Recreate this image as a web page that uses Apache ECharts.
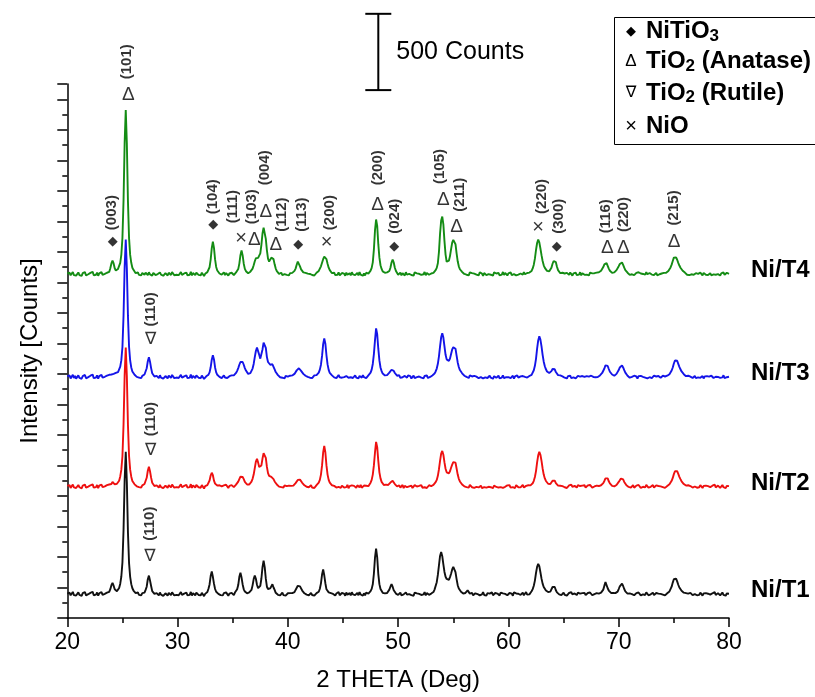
<!DOCTYPE html>
<html><head><meta charset="utf-8">
<script src="https://cdn.jsdelivr.net/npm/echarts@6/dist/echarts.min.js"></script>
<style>html,body{margin:0;padding:0;background:#fff}#c{width:815px;height:697px}</style>
</head><body><div id="c"></div>
<script>
// 2-theta grid of the digitised patterns (degrees)
const X_START = 20, X_STEP = 0.1;

// Raw intensities (counts), one value per 0.1 deg from 20 to 80
const T1 = [
160,152,166,149,158,171,150,163,147,159,
168,151,157,145,163,154,170,148,161,156,
150,165,158,172,149,160,153,167,146,162,
157,170,152,164,158,149,166,160,171,189,
215,230,212,188,178,176,184,197,225,272,
365,578,904,1090,890,560,360,270,222,195,
180,172,163,158,167,152,160,149,163,155,
166,184,205,254,278,246,210,176,171,158,
150,163,156,148,167,153,160,145,158,162,
154,147,165,158,150,169,156,148,161,152,
163,149,157,170,151,146,160,155,166,148,
158,152,171,147,163,155,149,166,157,151,
160,148,165,154,143,158,168,170,192,220,
275,305,270,225,190,172,166,158,162,150,
157,148,163,152,168,155,146,160,153,165,
158,150,167,170,188,216,270,297,265,220,
188,174,168,162,156,168,166,184,214,255,
279,257,218,196,195,211,259,334,375,334,
258,205,190,180,194,206,221,200,184,165,
160,152,165,149,158,166,150,161,147,156,
162,150,163,157,163,168,170,184,194,211,
215,207,197,180,174,162,166,153,160,149,
158,165,151,162,147,157,163,164,172,192,
227,285,318,280,228,188,176,168,157,163,
150,158,166,147,161,155,170,149,157,164,
153,160,146,167,152,158,163,148,169,155,
161,150,157,165,149,170,154,159,146,162,
148,166,155,160,170,176,191,221,290,395,
455,398,288,222,190,178,165,168,161,162,
164,167,186,205,222,205,182,170,160,163,
151,158,166,149,162,155,147,168,153,160,
157,164,150,159,146,167,156,161,149,158,
166,151,160,155,170,148,163,157,152,165,
160,168,170,186,199,235,282,345,407,432,
405,352,302,270,256,245,250,268,290,318,
335,330,300,255,215,193,180,172,166,160,
158,164,172,181,170,160,152,165,149,158,
162,150,157,166,148,160,155,169,151,158,
147,163,155,160,152,168,149,157,164,153,
160,156,148,167,154,161,150,158,165,149,
157,164,152,160,146,168,155,161,150,159,
163,151,158,166,149,157,170,153,160,155,
167,175,189,211,245,295,335,355,340,300,
258,225,203,190,180,172,170,172,173,185,
203,215,203,182,168,164,155,162,150,158,
166,152,160,147,158,164,151,169,155,149,
161,157,150,166,153,160,148,163,156,165,
150,158,164,152,167,155,149,162,157,153,
163,151,160,158,166,172,186,212,235,222,
195,180,170,164,158,165,159,163,165,173,
190,208,220,225,210,190,175,166,160,154,
161,150,157,165,149,158,163,152,167,156,
148,160,155,163,151,168,157,149,162,155,
159,166,150,157,164,152,160,147,158,165,
153,160,148,160,162,166,174,186,205,232,
254,265,258,240,218,200,188,178,170,166,
158,163,151,160,148,165,156,150,162,157,
164,149,157,152,166,158,147,161,155,163,
150,159,166,153,148,162,157,169,151,158,
163,155,148,160,167,152,158,146,161,156,
159];

const T2 = [
166,158,171,153,164,175,156,169,152,163,
172,157,163,150,168,159,174,154,166,161,
155,170,163,176,154,165,158,172,151,167,
162,174,157,169,163,155,171,165,175,168,
178,192,185,176,183,180,188,200,228,272,
360,570,890,1072,885,565,362,272,226,198,
185,176,170,163,172,158,166,155,169,161,
178,189,219,265,291,262,220,186,176,165,
156,169,162,154,173,158,166,151,164,168,
160,153,171,164,156,175,162,154,167,158,
169,155,163,176,157,152,166,161,172,154,
164,158,177,153,169,161,155,172,163,157,
166,154,171,160,149,164,166,171,180,201,
234,252,236,200,181,171,168,162,170,157,
163,154,169,158,174,161,152,166,159,171,
165,158,170,174,182,194,210,226,232,224,
210,192,182,175,172,175,182,194,212,240,
282,325,343,320,290,282,300,345,380,389,
350,290,250,232,225,225,222,210,195,182,
175,168,161,172,158,166,155,169,160,164,
157,168,162,166,171,168,178,184,196,205,
212,207,196,186,178,170,172,160,166,157,
163,170,155,167,152,162,171,176,187,205,
240,300,385,428,385,300,240,205,187,176,
170,158,166,173,155,164,159,171,153,167,
162,155,168,158,173,150,164,160,169,156,
166,159,153,170,161,157,172,154,163,168,
155,167,160,164,176,187,205,240,300,385,
454,420,330,255,215,192,180,172,166,174,
168,172,180,188,196,199,190,178,170,163,
158,169,155,164,172,151,166,160,157,170,
163,156,168,152,165,171,158,162,150,166,
160,171,154,163,157,168,152,165,170,158,
165,160,172,178,190,205,232,275,330,378,
395,370,320,278,255,245,248,262,285,305,
322,330,318,280,240,212,195,182,175,168,
163,170,158,166,155,172,161,157,168,153,
165,159,171,156,162,167,152,164,158,170,
154,166,160,173,157,163,151,168,162,159,
167,155,162,158,171,153,165,160,156,169,
161,170,154,163,158,166,152,171,160,157,
168,156,163,172,155,161,166,158,170,167,
169,174,183,199,224,263,320,366,389,370,
330,280,240,215,198,188,180,184,178,188,
200,212,200,184,172,168,160,167,155,164,
171,157,165,152,163,169,156,174,160,154,
166,162,155,171,158,165,153,168,161,170,
155,163,169,157,172,160,154,167,162,158,
168,156,165,163,170,176,184,198,215,225,
215,196,182,172,166,170,163,168,172,180,
192,205,214,219,208,192,180,170,166,159,
167,155,162,170,154,163,168,157,172,161,
153,165,160,168,156,173,162,154,167,160,
164,171,155,162,169,157,165,152,163,170,
158,165,153,166,165,170,176,185,199,218,
243,262,271,262,245,225,210,196,186,178,
175,168,160,170,157,165,161,155,167,162,
169,154,162,157,171,163,152,166,160,168,
155,164,171,158,153,167,162,174,156,163,
168,160,153,165,172,157,163,151,166,170,
164];

const T3 = [
164,155,170,150,162,174,153,167,149,161,
171,154,160,148,166,157,173,151,164,159,
153,168,161,175,152,163,156,170,149,165,
160,173,155,167,161,153,169,163,174,170,
176,183,180,178,186,185,192,202,228,270,
356,564,880,1060,870,560,358,268,222,196,
183,174,168,160,170,156,164,152,167,159,
176,187,217,263,289,260,218,184,174,163,
154,167,160,152,171,156,164,149,162,166,
158,151,169,162,154,173,160,152,165,156,
167,153,161,174,155,150,164,159,170,152,
162,156,175,151,167,159,153,170,161,155,
164,152,169,158,147,160,164,168,175,190,
223,273,302,275,222,190,174,168,160,165,
152,161,170,156,165,153,160,165,163,170,
166,170,176,186,200,218,240,258,269,258,
240,218,202,190,180,178,185,196,215,245,
290,330,352,348,305,280,290,340,385,393,
350,290,258,245,240,242,243,230,210,192,
180,172,163,158,168,155,163,151,166,158,
162,155,168,163,170,175,180,190,203,212,
217,212,200,190,180,175,168,172,160,166,
155,167,152,164,170,160,172,178,188,208,
240,298,375,413,378,302,242,206,186,175,
170,162,157,169,152,165,173,158,164,155,
168,159,152,166,171,155,162,158,169,153,
161,170,156,164,151,167,160,155,172,158,
165,152,163,170,176,188,208,245,310,400,
478,440,345,268,222,198,182,175,170,177,
172,180,188,198,207,210,200,186,175,168,
160,171,154,165,158,149,167,162,155,170,
157,165,150,162,168,153,166,159,148,163,
169,155,162,151,166,158,170,153,164,160,
160,170,175,182,196,215,246,295,360,420,
446,418,360,305,275,262,265,280,310,340,
355,361,345,300,255,225,205,192,184,175,
168,172,160,166,153,170,158,163,150,167,
155,162,168,152,164,159,171,150,161,157,
166,153,160,169,155,163,148,165,158,154,
162,168,151,160,156,170,153,164,159,150,
158,165,152,161,168,149,163,157,170,155,
151,164,159,166,153,160,171,156,162,166,
169,174,185,204,233,279,346,399,426,405,
360,305,260,230,210,196,188,186,190,198,
212,220,210,192,180,172,165,170,158,164,
170,155,162,150,165,158,168,152,161,157,
164,151,159,167,154,162,149,166,157,160,
153,165,158,162,150,168,156,160,163,158,
166,160,168,170,178,186,198,215,236,243,
232,212,194,182,176,172,168,174,180,192,
205,222,232,236,222,204,188,176,168,162,
155,166,160,152,168,157,163,149,165,159,
167,154,161,170,156,164,151,162,158,166,
152,160,168,155,163,150,166,159,154,162,
168,157,163,160,168,172,178,188,202,222,
248,268,276,266,246,226,210,196,186,178,
172,165,158,168,155,162,170,153,160,166,
152,163,157,169,154,161,166,150,164,158,
165,156,162,150,168,159,153,166,161,155,
160,168,154,163,157,171,152,165,158,167,
161];

const T4 = [
158,149,163,146,155,168,147,160,144,156,
165,148,154,142,160,151,167,145,158,153,
147,162,155,169,146,157,150,164,143,159,
154,167,149,161,155,146,163,157,168,192,
224,242,224,192,178,178,188,197,228,282,
392,640,1015,1230,1010,630,390,280,228,196,
182,172,160,155,166,149,158,146,161,153,
150,164,157,147,166,152,159,144,162,155,
148,161,154,146,165,151,158,143,156,160,
152,145,163,156,148,167,154,146,159,150,
161,147,155,168,149,144,158,153,164,146,
156,150,169,145,161,153,147,164,155,149,
158,146,163,152,141,156,161,167,178,199,
249,324,367,326,250,201,178,168,158,163,
150,159,166,147,161,153,144,158,151,163,
155,148,160,165,172,187,223,278,309,276,
222,188,173,165,160,166,170,176,190,212,
238,258,265,260,262,290,345,420,458,450,
385,310,255,236,242,262,270,252,218,190,
174,165,156,150,163,147,158,154,166,149,
157,146,160,153,162,166,175,190,215,236,
228,205,185,172,165,158,162,150,157,146,
155,162,148,159,145,156,163,168,175,188,
205,228,252,268,270,252,222,196,180,170,
160,152,163,147,158,150,166,145,155,161,
149,157,143,164,150,155,160,146,166,152,
158,147,154,162,146,167,151,156,143,159,
145,163,152,157,166,177,195,231,314,440,
512,470,350,262,212,188,172,165,163,172,
165,168,174,196,230,250,230,196,174,164,
150,157,164,146,160,153,145,166,151,158,
155,162,148,157,144,165,154,159,147,156,
164,149,158,153,168,146,161,155,150,163,
158,165,162,170,180,195,225,300,420,505,
531,480,370,282,235,228,242,272,318,360,
378,381,350,290,238,205,186,174,168,160,
155,163,150,158,146,165,152,160,148,157,
162,151,159,145,166,153,157,143,161,154,
147,160,154,163,150,156,144,165,152,158,
155,161,146,157,151,168,148,162,156,145,
159,152,165,148,160,154,163,146,157,151,
145,158,162,150,167,153,149,161,160,164,
166,175,191,216,255,312,358,381,362,322,
278,240,212,195,182,175,170,172,180,196,
222,240,250,232,202,180,168,160,156,163,
150,158,146,162,153,149,165,155,144,159,
156,163,148,157,151,166,146,160,153,149,
161,150,156,145,164,152,159,148,160,155,
164,158,166,170,176,186,200,218,230,226,
208,190,176,168,162,168,165,172,180,192,
206,220,228,230,214,196,180,170,163,156,
149,160,153,165,147,157,162,150,166,154,
158,146,155,163,150,167,153,145,161,156,
151,164,148,157,162,146,159,153,160,158,
155,162,158,163,168,175,185,198,216,240,
262,270,264,248,228,210,196,184,176,170,
164,157,150,162,147,158,153,166,149,155,
160,147,156,151,164,153,145,162,157,150,
163,148,155,160,146,157,152,165,150,158,
154,161,145,159,152,166,149,157,163,151,
156];

const sampleNames = ['Ni/T1', 'Ni/T2', 'Ni/T3', 'Ni/T4'];
const sampleData = [T1, T2, T3, T4];
const stackOffsets = [0, 700, 1420, 2100];   // vertical offset of each pattern (counts)

// Phase marks: [2theta, counts, phase]  d = NiTiO3, a = anatase, r = rutile, x = NiO
const phaseMarks = [
  [24.12, 2469, 'd'], [25.53, 3428, 'a'], [33.24, 2578, 'd'], [35.75, 2487, 'x'],
  [36.95, 2476, 'a'], [38.01, 2663, 'a'], [38.92, 2448, 'a'], [40.94, 2448, 'd'],
  [43.52, 2461, 'x'], [48.14, 2709, 'a'], [49.65, 2437, 'd'], [54.09, 2742, 'a'],
  [55.30, 2567, 'a'], [62.70, 2557, 'x'], [64.37, 2437, 'd'], [68.96, 2426, 'a'],
  [70.41, 2426, 'a'], [75.03, 2469, 'a'],
  [27.56, 1827, 'r'], [27.56, 1097, 'r'], [27.50, 400, 'r']
];
// Miller indices: [2theta, counts, label]
const hklLabels = [
  [24.03, 2657, '(003)'], [25.39, 3646, '(101)'], [33.24, 2761, '(104)'], [35.05, 2696, '(111)'],
  [36.72, 2696, '(103)'], [37.92, 2951, '(004)'], [39.44, 2644, '(112)'], [41.25, 2644, '(113)'],
  [43.82, 2657, '(200)'], [48.14, 2951, '(200)'], [49.71, 2633, '(024)'], [53.79, 2959, '(105)'],
  [55.60, 2774, '(211)'], [62.99, 2763, '(220)'], [64.61, 2633, '(300)'], [68.84, 2633, '(116)'],
  [70.47, 2644, '(220)'], [75.03, 2688, '(215)'],
  [27.56, 2023, '(110)'], [27.56, 1304, '(110)'], [27.50, 618, '(110)']
];
// Legend entries: [phase, formula, small digit, rest]
const legendEntries = [
  ['d', 'NiTiO', '3', ''],
  ['a', 'TiO', '2', ' (Anatase)'],
  ['r', 'TiO', '2', ' (Rutile)'],
  ['x', 'NiO', '', '']
];
const scaleBar = { x: 48.2, base: 3460, counts: 500, text: '500 Counts' };

const FONT = "'Liberation Sans', Arial, Helvetica, sans-serif";
const SYMFONT = "'Liberation Sans', 'DejaVu Sans', sans-serif";
const colors = ['#111111', '#ee1010', '#1414e8', '#148c14'];
const SYM = { d: '\u25C6', a: '\u0394', r: '\u2207', x: '\u00D7' };
const symRich = {
  d: { fontSize: 13, color: '#000', fontFamily: "'DejaVu Sans', sans-serif" },
  a: { fontSize: 19, color: '#000', fontFamily: SYMFONT },
  r: { fontSize: 17, color: '#000', fontFamily: "'DejaVu Sans', sans-serif" },
  x: { fontSize: 20, color: '#000', fontFamily: SYMFONT }
};

const chart = echarts.init(document.getElementById('c'), null, { renderer: 'canvas' });

const lineSeries = sampleNames.map((name, k) => ({
  type: 'line',
  name: name,
  xAxisIndex: 0, yAxisIndex: 0,
  data: sampleData[k].map((v, i) => [+(X_START + i * X_STEP).toFixed(2), v + stackOffsets[k]]),
  showSymbol: false, symbol: 'none', silent: true,
  lineStyle: { color: colors[k], width: 1.9 },
  itemStyle: { color: colors[k] },
  endLabel: {
    show: true, formatter: '{a}', color: '#000', fontSize: 24, fontWeight: 'bold',
    fontFamily: FONT, distance: 22, offset: [0, -3]
  },
  z: 2 + k
}));

const option = {
  animation: false,
  backgroundColor: '#fff',
  grid: { left: 67.3, right: 86, top: 84, bottom: 77.5 },
  xAxis: {
    type: 'value', min: 20, max: 80, interval: 10,
    name: '2 THETA (Deg)', nameLocation: 'middle', nameGap: 50,
    nameTextStyle: { fontSize: 24, color: '#000', fontFamily: FONT },
    axisLine: { show: true, onZero: false, lineStyle: { color: '#000', width: 1.5 } },
    axisTick: { show: true, length: 9, lineStyle: { color: '#000', width: 1.5 } },
    minorTick: { show: true, splitNumber: 2, length: 5, lineStyle: { color: '#000', width: 1.5 } },
    axisLabel: { fontSize: 23, color: '#000', fontFamily: FONT, margin: 13 },
    splitLine: { show: false }
  },
  yAxis: [{
    type: 'value', min: 0, max: 3500, interval: 200, position: 'left',
    name: 'Intensity [Counts]', nameLocation: 'middle', nameGap: 25, nameRotate: 90,
    nameTextStyle: { fontSize: 24, color: '#000', fontFamily: FONT },
    axisLine: { show: true, onZero: false, lineStyle: { color: '#000', width: 1.5 } },
    axisTick: { show: true, length: 10, lineStyle: { color: '#000', width: 1.5 } },
    axisLabel: { show: false },
    splitLine: { show: false }
  }, {
    type: 'value', min: 0, max: 3500, interval: 100, position: 'left', offset: 0,
    axisLine: { show: false },
    axisTick: { show: true, length: 5, lineStyle: { color: '#000', width: 1.5 } },
    axisLabel: { show: false },
    splitLine: { show: false }
  }],
  series: lineSeries.concat([
    {
      type: 'scatter', name: 'phases', xAxisIndex: 0, yAxisIndex: 0,
      data: phaseMarks, symbolSize: 1, clip: false, silent: true, z: 10,
      itemStyle: { color: 'rgba(0,0,0,0)' },
      label: {
        show: true, position: 'inside', color: '#000', textBorderWidth: 0,
        formatter: p => '{' + p.data[2] + '|' + SYM[p.data[2]] + '}',
        rich: symRich
      }
    },
    {
      type: 'scatter', name: 'hkl', xAxisIndex: 0, yAxisIndex: 0,
      data: hklLabels, symbolSize: 1, clip: false, silent: true, z: 10,
      itemStyle: { color: 'rgba(0,0,0,0)' },
      label: {
        show: true, position: 'inside', rotate: 90, color: '#000', textBorderWidth: 0,
        fontSize: 15, fontWeight: 'bold', fontFamily: FONT,
        formatter: p => p.data[2]
      }
    }
  ])
};
chart.setOption(option);

// scale bar and legend box
const pb = chart.convertToPixel({ gridIndex: 0 }, [scaleBar.x, scaleBar.base]);
const pt = chart.convertToPixel({ gridIndex: 0 }, [scaleBar.x, scaleBar.base + scaleBar.counts]);
const graphics = [
  { type: 'line', shape: { x1: pb[0], y1: pb[1], x2: pt[0], y2: pt[1] }, style: { stroke: '#000', lineWidth: 2 } },
  { type: 'line', shape: { x1: pb[0] - 13, y1: pb[1], x2: pb[0] + 13, y2: pb[1] }, style: { stroke: '#000', lineWidth: 2 } },
  { type: 'line', shape: { x1: pt[0] - 13, y1: pt[1], x2: pt[0] + 13, y2: pt[1] }, style: { stroke: '#000', lineWidth: 2 } },
  { type: 'text', x: pb[0] + 18, y: (pb[1] + pt[1]) / 2,
    style: { text: scaleBar.text, fill: '#000', fontSize: 25, fontFamily: FONT, align: 'left', verticalAlign: 'middle' } },
  { type: 'rect', shape: { x: 614.5, y: 17.5, width: 215, height: 127 },
    style: { fill: '#fff', stroke: '#000', lineWidth: 1 }, z: 20 }
];
const legendRowY = [31.7, 61.7, 93, 126];
const legSymSize = { d: 13, a: 17, r: 16, x: 20 };
legendEntries.forEach((e, i) => {
  graphics.push({
    type: 'text', x: 631, y: legendRowY[i], z: 21,
    style: { text: SYM[e[0]], fill: '#000', fontSize: legSymSize[e[0]],
      fontFamily: (e[0] === 'd' || e[0] === 'r') ? "'DejaVu Sans', sans-serif" : SYMFONT,
      align: 'center', verticalAlign: 'middle' }
  });
  let txt = '{b|' + e[1] + '}';
  if (e[2]) txt += '{s|' + e[2] + '}';
  if (e[3]) txt += '{b|' + e[3] + '}';
  graphics.push({
    type: 'text', x: 646, y: legendRowY[i], z: 21,
    style: {
      text: txt, fill: '#000', align: 'left', verticalAlign: 'middle',
      rich: {
        b: { fontSize: 24, fontWeight: 'bold', fontFamily: FONT, fill: '#000', lineHeight: 26 },
        s: { fontSize: 17, fontWeight: 'bold', fontFamily: FONT, fill: '#000', lineHeight: 21, verticalAlign: 'bottom' }
      }
    }
  });
});
chart.setOption({ graphic: graphics });
</script>
</body></html>
